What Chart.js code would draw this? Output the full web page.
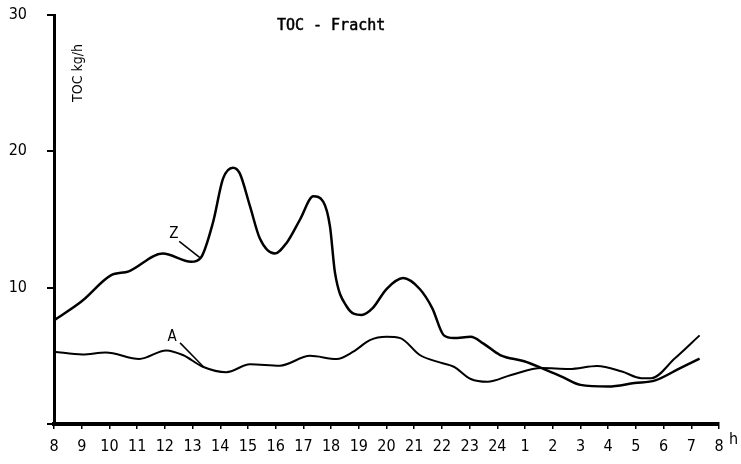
<!DOCTYPE html>
<html>
<head>
<meta charset="utf-8">
<title>TOC - Fracht</title>
<script src="https://cdn.jsdelivr.net/npm/chart.js@4"></script>
<style>
    body { margin: 0; background: #fff; }
    canvas { display: block; }
</style>
</head>
<body>
<canvas id="tocChart" width="741" height="464"></canvas>
<script>
// --- Data (x = hours since 8 o'clock, y = TOC kg/h) ---

const hourLabels = ['8', '9', '10', '11', '12', '13', '14', '15', '16', '17', '18', '19', '20',
    '21', '22', '23', '24', '1', '2', '3', '4', '5', '6', '7', '8'];

const zHours = [0, 1.0, 2.05, 2.7, 3.92, 4.95, 5.3, 5.74, 6.1, 6.46, 6.7, 7.07, 7.43, 7.97, 8.4,
    8.88, 9.36, 9.72, 9.96, 10.14, 10.57, 11.1, 11.5, 12.0, 12.6, 13.2, 13.65, 14.07, 14.43,
    15.04, 15.5, 16.1, 16.97, 17.6, 18.3, 19.0, 20.0, 20.95, 21.7, 22.6, 23.3];
const zValues = [7.6, 9.0, 10.9, 11.2, 12.5, 11.9, 12.2, 14.8, 18.0, 18.8, 18.4, 16.0, 13.6, 12.5, 13.3,
    15.0, 16.7, 16.3, 14.5, 11.1, 8.6, 8.0, 8.5, 9.9, 10.7, 9.9, 8.5, 6.5, 6.3,
    6.4, 5.9, 5.06, 4.6, 4.1, 3.5, 2.87, 2.75, 3.0, 3.2, 4.1, 4.8];

const aHours = [0, 1.03, 1.87, 3.08, 4.05, 4.65, 5.37, 6.22, 7.07, 8.15, 9.24, 10.2, 10.8, 11.4,
    12.0, 12.5, 13.2, 13.95, 14.43, 15.04, 15.64, 16.5, 17.6, 18.6, 19.6, 20.5, 21.2, 21.56,
    22.4, 23.3];
const aValues = [5.3, 5.1, 5.25, 4.77, 5.4, 5.06, 4.2, 3.8, 4.38, 4.28, 5.0, 4.77, 5.3, 6.15,
    6.4, 6.3, 5.06, 4.5, 4.2, 3.3, 3.1, 3.6, 4.1, 4.04, 4.26, 3.85, 3.36, 3.36,
    4.8, 6.5];

// curve labels with their leader lines, in data units
const curveNotes = [
    { text: 'Z', at: [4.33, 13.9], from: [4.52, 13.4], to: [5.3, 12.15] },
    { text: 'A', at: [4.26, 6.4], from: [4.55, 5.95], to: [5.42, 4.15] }
];

const toPoints = (xs, ys) => xs.map((x, i) => ({ x: x, y: ys[i] }));

const TICK_FONT = "'Liberation Sans Narrow', 'DejaVu Sans Condensed', 'Liberation Sans', sans-serif";

// --- Extra text: title, y title, curve labels, unit "h" ---

const notesPlugin = {
    id: 'notes',
    afterDraw(chart) {
        const { ctx, chartArea, scales: { x, y } } = chart;
        ctx.save();
        ctx.fillStyle = '#000';
        ctx.strokeStyle = '#000';

        // title (typewriter look, a little heavier than regular)
        ctx.font = "15px 'DejaVu Sans Mono', monospace";
        ctx.textAlign = 'center';
        ctx.textBaseline = 'middle';
        ctx.lineWidth = 0.5;
        ctx.fillText('TOC - Fracht', x.getPixelForValue(10), 26);
        ctx.strokeText('TOC - Fracht', x.getPixelForValue(10), 26);

        // y axis title, rotated
        ctx.save();
        ctx.translate(chartArea.left + 24, 73);
        ctx.rotate(-Math.PI / 2);
        ctx.font = '14px ' + TICK_FONT;
        ctx.fillText('TOC kg/h', 0, 0);
        ctx.restore();

        // curve labels
        ctx.font = '15px ' + TICK_FONT;
        ctx.lineWidth = 1.5;
        curveNotes.forEach(n => {
            ctx.fillText(n.text, x.getPixelForValue(n.at[0]), y.getPixelForValue(n.at[1]));
            ctx.beginPath();
            ctx.moveTo(x.getPixelForValue(n.from[0]), y.getPixelForValue(n.from[1]));
            ctx.lineTo(x.getPixelForValue(n.to[0]), y.getPixelForValue(n.to[1]));
            ctx.stroke();
        });

        // unit on the time axis
        ctx.font = '16px ' + TICK_FONT;
        ctx.textAlign = 'left';
        ctx.fillText('h', chartArea.right + 10, chartArea.bottom + 16);
        ctx.restore();
    }
};

// --- Chart ---

const ctx = document.getElementById('tocChart').getContext('2d');
new Chart(ctx, {
    type: 'line',
    data: {
        datasets: [{
            label: 'Z',
            data: toPoints(zHours, zValues),
            borderColor: '#000',
            borderWidth: 2.5,
            pointRadius: 0,
            cubicInterpolationMode: 'monotone',
            fill: false
        }, {
            label: 'A',
            data: toPoints(aHours, aValues),
            borderColor: '#000',
            borderWidth: 2,
            pointRadius: 0,
            cubicInterpolationMode: 'monotone',
            fill: false
        }]
    },
    options: {
        responsive: false,
        animation: false,
        layout: {
            padding: { top: 15, right: 22, left: 0, bottom: 0 }
        },
        plugins: {
            legend: { display: false },
            tooltip: { enabled: false },
            title: { display: false }
        },
        scales: {
            x: {
                type: 'linear',
                min: 0,
                max: 24,
                afterFit: s => { s.height = 40; },
                border: { display: true, color: '#000', width: 4 },
                grid: { drawOnChartArea: false, drawTicks: true, tickLength: 5, color: '#000', lineWidth: 1.5 },
                ticks: {
                    stepSize: 1,
                    autoSkip: false,
                    maxRotation: 0,
                    padding: 8,
                    color: '#000',
                    font: { family: TICK_FONT, size: 16 },
                    callback: v => hourLabels[v]
                }
            },
            y: {
                min: 0,
                max: 30,
                afterFit: s => {
                    s.width = 54;
                    // the "30" label may stick out above the axis, as in the original
                    s.paddingTop = 0;
                    s.paddingBottom = 0;
                },
                border: { display: true, color: '#000', width: 3 },
                grid: { drawOnChartArea: false, drawTicks: true, tickLength: 7, color: '#000', lineWidth: 2 },
                ticks: {
                    stepSize: 10,
                    padding: 20,
                    color: '#000',
                    font: { family: TICK_FONT, size: 16 },
                    callback: v => (v === 0 ? '' : String(v))
                }
            }
        }
    },
    plugins: [notesPlugin]
});
</script>
</body>
</html>
